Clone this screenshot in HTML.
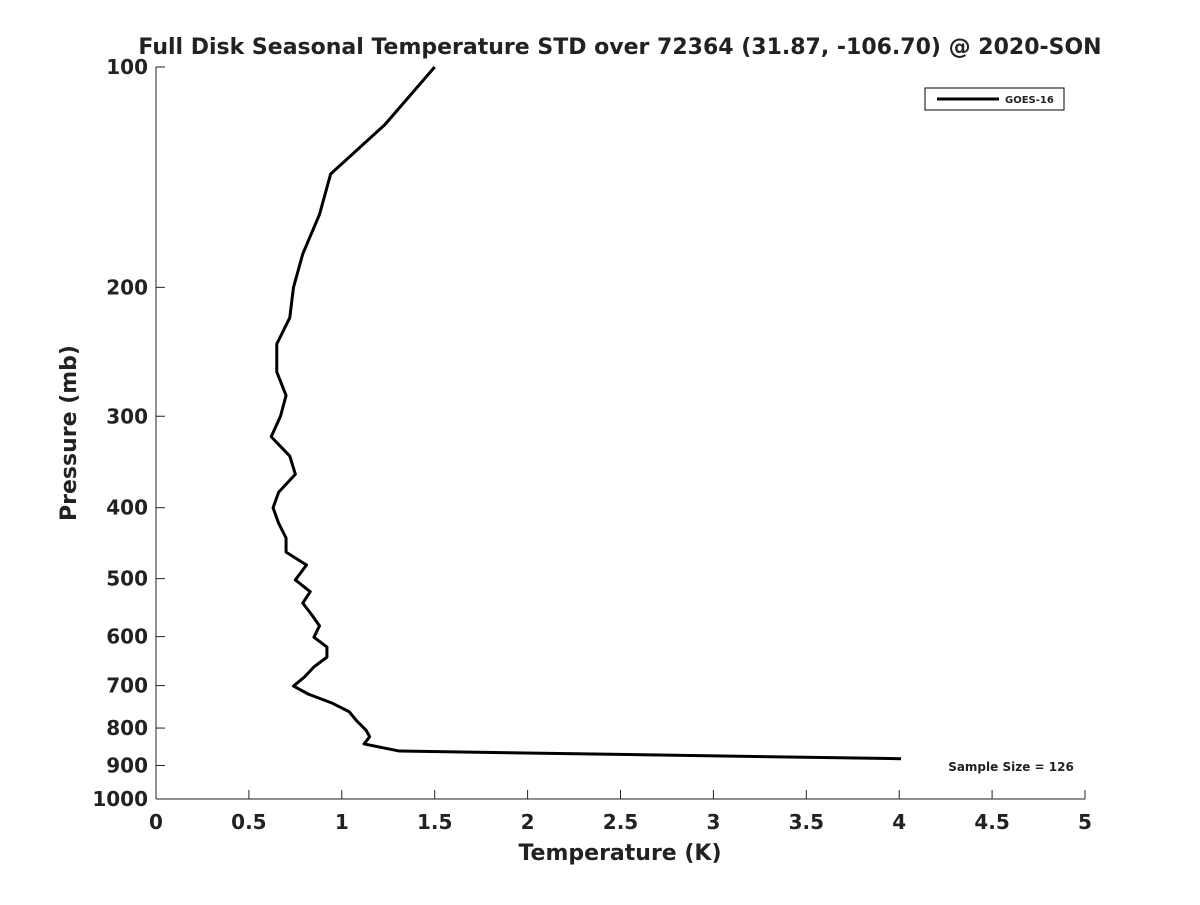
<!DOCTYPE html>
<html><head><meta charset="utf-8"><style>
body{margin:0;background:#fff;}
svg text{font-family:"DejaVu Sans","Liberation Sans",sans-serif;font-weight:bold;fill:#222;}
</style></head><body>
<svg id="chart" width="1200" height="900">
<text x="620" y="54" font-size="22" text-anchor="middle">Full Disk Seasonal Temperature STD over 72364 (31.87, -106.70) @ 2020-SON</text>
<g id="axes"></g>
<polyline id="line" fill="none" stroke="#000" stroke-width="3" stroke-linejoin="round"/>
<g>
<rect x="925" y="88" width="139" height="22" fill="#fff" stroke="#000" stroke-width="1"/>
<line x1="937" y1="99" x2="999" y2="99" stroke="#000" stroke-width="3"/>
<text x="1005" y="103" font-size="10">GOES-16</text>
</g>
<text x="1011" y="771" font-size="12" text-anchor="middle">Sample Size = 126</text>
<text x="620" y="860" font-size="22" text-anchor="middle">Temperature (K)</text>
<text transform="translate(76,433) rotate(-90)" font-size="22" text-anchor="middle">Pressure (mb)</text>
</svg>
<script>
const temps=[1.50,1.23,0.94,0.88,0.79,0.74,0.72,0.65,0.65,0.70,0.67,0.62,0.72,0.75,0.66,0.63,0.66,0.70,0.70,0.81,0.75,0.83,0.79,0.84,0.88,0.85,0.92,0.92,0.85,0.80,0.74,0.82,0.95,1.04,1.08,1.13,1.15,1.12,1.31,4.01];
const pressures=[100,120,140,159,180,200,220,239,261,281,300,320,340,360,381,400,420,440,460,479,502,521,540,561,580,601,620,640,660,681,701,719,740,760,782,805,822,841,860,881];
const xTicks=[0,0.5,1,1.5,2,2.5,3,3.5,4,4.5,5];
const yTicks=[100,200,300,400,500,600,700,800,900,1000];
const L=156,R=1085,T=67,B=799;
const xs=v=>L+(R-L)*v/5;
const ys=p=>T+(B-T)*Math.log10(p/100);
const ns="http://www.w3.org/2000/svg";
const ax=document.getElementById('axes');
function mk(t,a){const e=document.createElementNS(ns,t);for(const k in a)e.setAttribute(k,a[k]);ax.appendChild(e);return e;}
let l1=mk('line',{x1:L,y1:B,x2:R,y2:B,stroke:'#222','stroke-width':1});


let l2=mk('line',{x1:L,y1:T,x2:L,y2:B,stroke:'#222','stroke-width':1});


xTicks.forEach(v=>{
 mk('line',{x1:xs(v),y1:B,x2:xs(v),y2:B-9,stroke:'#222'});
 let t=mk('text',{x:xs(v),y:B+30,'font-size':20,'text-anchor':'middle'});t.textContent=v;
 
 
});
yTicks.forEach(p=>{
 mk('line',{x1:L,y1:ys(p),x2:L+9,y2:ys(p),stroke:'#222'});
 let t=mk('text',{x:L-8,y:ys(p)+7,'font-size':20,'text-anchor':'end'});t.textContent=p;
 
 
});
document.getElementById('line').setAttribute('points',temps.map((v,i)=>xs(v)+','+ys(pressures[i])).join(' '));
</script>
</body></html>
